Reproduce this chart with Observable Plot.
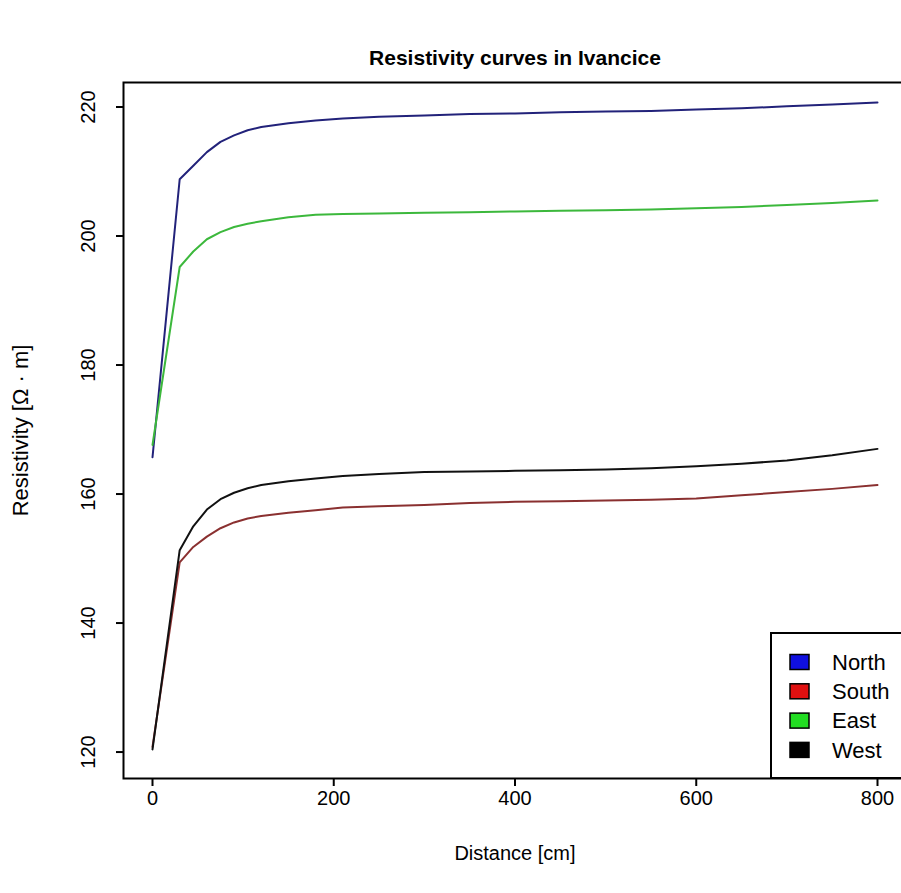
<!DOCTYPE html>
<html><head><meta charset="utf-8">
<script src="https://cdn.jsdelivr.net/npm/d3@7"></script>
<script src="https://cdn.jsdelivr.net/npm/@observablehq/plot@0.6"></script>
<style>
html,body{margin:0;padding:0;background:#fff;overflow:hidden;width:901px;height:893px}
#chart svg{display:block;max-width:none !important}
</style></head><body><div id="chart"></div>
<script>
const title = "Resistivity curves in Ivancice";
const xLabel = "Distance [cm]";
const yLabel = "Resistivity [Ω · m]";
const distance = [0, 30, 45, 60, 75, 90, 105, 120, 150, 180, 210, 250, 300, 350, 400, 450, 500, 550, 600, 650, 700, 750, 800];
const north = [165.7, 208.8, 210.9, 213.0, 214.6, 215.6, 216.4, 216.9, 217.5, 217.9, 218.2, 218.5, 218.7, 218.9, 219.0, 219.2, 219.3, 219.4, 219.6, 219.8, 220.1, 220.4, 220.7];
const south = [120.8, 149.4, 151.8, 153.4, 154.7, 155.6, 156.2, 156.6, 157.1, 157.5, 157.9, 158.1, 158.3, 158.6, 158.8, 158.9, 159.0, 159.1, 159.3, 159.8, 160.3, 160.8, 161.4];
const east = [167.6, 195.2, 197.6, 199.5, 200.6, 201.4, 201.9, 202.3, 202.9, 203.3, 203.4, 203.5, 203.6, 203.7, 203.8, 203.9, 204.0, 204.1, 204.3, 204.5, 204.8, 205.1, 205.5];
const west = [120.4, 151.3, 155.0, 157.6, 159.2, 160.2, 160.9, 161.4, 162.0, 162.4, 162.8, 163.1, 163.4, 163.5, 163.6, 163.7, 163.8, 164.0, 164.3, 164.7, 165.2, 166.0, 167.0];
const seriesNames = ["North", "South", "East", "West"];
const lineColors = ["#22227a", "#8a3030", "#3cb83c", "#111111"];
const legendFills = ["#1010e0", "#e01010", "#22dd22", "#000000"];
const xTicks = [0, 200, 400, 600, 800];
const yTicks = [120, 140, 160, 180, 200, 220];

const values = {North: north, South: south, East: east, West: west};
const rows = seriesNames.flatMap(name => distance.map((d, i) => ({series: name, distance: d, value: values[name][i]})));

const FONT = '"Liberation Sans", Arial, sans-serif';

const chart = Plot.plot({
  width: 910, height: 893,
  marginLeft: 123, marginRight: 4, marginTop: 82, marginBottom: 115,
  style: {fontFamily: FONT, background: "#fff", maxWidth: "none", color: "#000"},
  x: {domain: [-32, 832], axis: null},
  y: {domain: [115.9, 223.8], axis: null},
  color: {domain: seriesNames, range: lineColors},
  marks: [
    Plot.line(rows, {x: "distance", y: "value", z: "series", stroke: "series", strokeWidth: 2}),
    Plot.axisX({ticks: xTicks, tickSize: 8, strokeWidth: 2, tickFormat: () => "", label: null}),
    Plot.axisY({ticks: yTicks, tickSize: 7, strokeWidth: 2, tickFormat: () => "", label: null}),
    Plot.text(xTicks, {x: d => d, text: d => String(d), frameAnchor: "bottom", dy: 20, lineAnchor: "middle", textAnchor: "middle", fontSize: 20}),
    Plot.text(yTicks, {y: d => d, text: d => String(d), frameAnchor: "left", dx: -35, rotate: -90, lineAnchor: "middle", textAnchor: "middle", fontSize: 20}),
    Plot.text([title], {text: d => d, frameAnchor: "top", dy: -24, lineAnchor: "middle", textAnchor: "middle", fontWeight: "bold", fontSize: 21}),
    Plot.text([xLabel], {text: d => d, frameAnchor: "bottom", dy: 75, lineAnchor: "middle", textAnchor: "middle", fontSize: 20}),
    Plot.text([yLabel], {text: d => d, frameAnchor: "left", dx: -103, rotate: -90, lineAnchor: "middle", textAnchor: "middle", fontSize: 22}),
    Plot.frame({stroke: "#000", strokeWidth: 2})
  ]
});
chart.style.maxWidth = "none";
document.getElementById("chart").appendChild(chart);

// legend (bottom-right, R style)
(function () {
  const xs = chart.scale("x"), ys = chart.scale("y");
  const boxRight = xs.range[1], boxBottom = ys.range[0];
  const boxW = 135, boxH = 145;
  const boxLeft = boxRight - boxW, boxTop = boxBottom - boxH;
  const g = d3.select(chart).append("g").attr("font-family", FONT).attr("font-size", 22).attr("text-anchor", "start");
  g.append("rect").attr("x", boxLeft).attr("y", boxTop).attr("width", boxW).attr("height", boxH)
    .attr("fill", "#fff").attr("stroke", "#000").attr("stroke-width", 2);
  seriesNames.forEach((name, i) => {
    const cy = boxTop + 29 + i * 29.3;
    g.append("rect").attr("x", boxLeft + 19).attr("y", cy - 7.5).attr("width", 19).attr("height", 15)
      .attr("fill", legendFills[i]).attr("stroke", "#000").attr("stroke-width", 1.5);
    g.append("text").attr("x", boxLeft + 61).attr("y", cy).attr("dy", "0.35em").attr("fill", "#000").text(name);
  });
})();
</script></body></html>
